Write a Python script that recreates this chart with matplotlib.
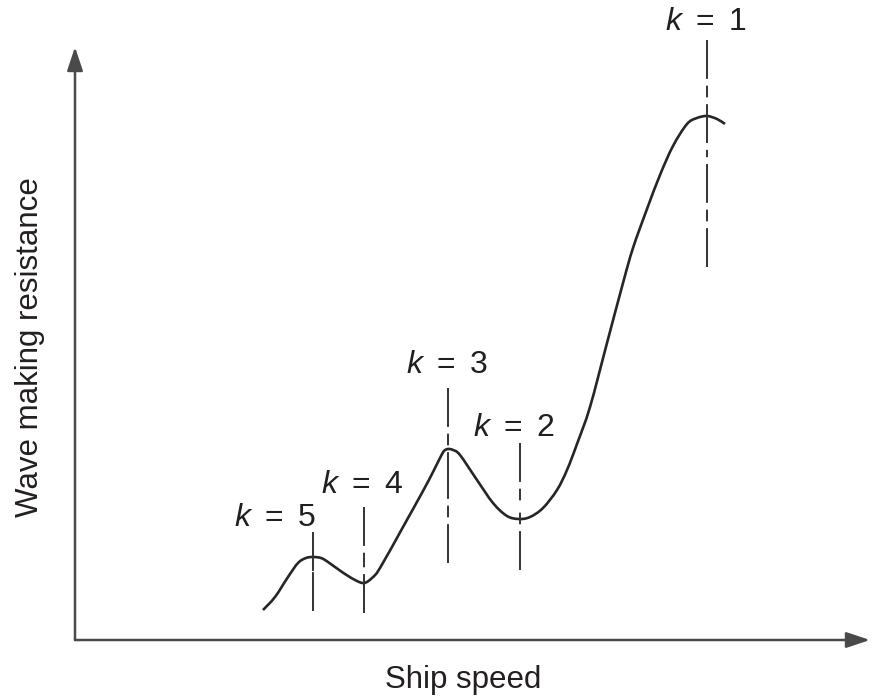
import matplotlib
matplotlib.use("Agg")
import matplotlib.pyplot as plt
from matplotlib.path import Path
from matplotlib.patches import PathPatch

plt.rcParams["font.family"] = ["Liberation Sans", "DejaVu Sans"]
plt.rcParams["mathtext.fontset"] = "custom"
plt.rcParams["mathtext.it"] = "Liberation Sans:italic"
plt.rcParams["mathtext.rm"] = "Liberation Sans"

# Wave-making resistance curve (arbitrary units)
speed = [18.8, 20.0, 21.3, 22.3, 23.1, 23.8, 24.6, 25.3, 26.7, 28.0, 28.9,
         29.7, 30.5, 32.8, 34.8, 35.8, 36.5, 36.9, 37.3, 37.8, 38.5, 40.2,
         41.8, 43.2, 44.4, 45.5, 46.8, 48.2, 49.2, 50.2, 51.5, 53.2, 54.8,
         55.8, 57.2, 58.5, 59.8, 61.2, 62.2, 63.2, 64.2, 65.0]
resistance = [3.0, 4.3, 6.3, 7.7, 8.2, 8.3, 8.2, 7.8, 6.8, 6.0, 5.7,
              6.2, 7.2, 11.3, 14.9, 16.8, 18.2, 18.9, 19.1, 19.0, 18.5, 16.0,
              13.7, 12.4, 12.1, 12.3, 13.2, 15.0, 17.0, 19.6, 23.3, 29.7, 35.7,
              39.2, 43.1, 46.5, 49.4, 51.6, 52.2, 52.4, 52.1, 51.6]

# Interference humps: k value, speed, marker extent, label position
k_values = [1, 2, 3, 4, 5]
k_speed = [63.2, 44.5, 37.3, 28.9, 23.8]
k_line_low = [37.3, 7.0, 7.7, 2.7, 2.9]
k_line_high = [60.0, 19.7, 25.2, 13.3, 10.8]
k_label_x = [63.1, 43.9, 37.2, 28.7, 20.0]
k_label_y = [61.8, 21.2, 27.5, 15.5, 12.2]

x_axis_end = 79.5
y_axis_end = 59.3


def smooth_path(xs, ys):
    """Cubic Bezier path passing through every point (Catmull-Rom tangents)."""
    pts = list(zip(xs, ys))
    verts = [pts[0]]
    codes = [Path.MOVETO]
    n = len(pts)
    for i in range(n - 1):
        p0 = pts[i - 1] if i > 0 else pts[i]
        p1 = pts[i]
        p2 = pts[i + 1]
        p3 = pts[i + 2] if i + 2 < n else pts[i + 1]
        c1 = (p1[0] + (p2[0] - p0[0]) / 6, p1[1] + (p2[1] - p0[1]) / 6)
        c2 = (p2[0] - (p3[0] - p1[0]) / 6, p2[1] - (p3[1] - p1[1]) / 6)
        verts += [c1, c2, p2]
        codes += [Path.CURVE4] * 3
    return Path(verts, codes)


fig = plt.figure(figsize=(8.77, 7.0), dpi=100)
ax = fig.add_axes([0, 0, 1, 1])
ax.set_xlim(-7.5, 80.2)
ax.set_ylim(-6.0, 64.0)
ax.axis("off")

axis_color = "#4a4a4a"
ink = "#231f20"

# Axes with arrowheads
arrow_style = "-|>,head_length=0.72,head_width=0.24"
for end in [(x_axis_end, 0), (0, y_axis_end)]:
    ax.annotate("", xy=end, xytext=(0, 0),
                arrowprops=dict(arrowstyle=arrow_style, mutation_scale=20,
                                lw=1.8, color=axis_color,
                                shrinkA=0, shrinkB=0))

# Centre lines marking each k, dashed inward from both ends so each
# end finishes on a long dash
centre_style = (0, (20, 3.5, 6, 3.5))
for xs, lo, hi in zip(k_speed, k_line_low, k_line_high):
    mid = (lo + hi) / 2
    for start in (hi, lo):
        ax.plot([xs, xs], [start, mid], color="#333333", lw=1.4,
                linestyle=centre_style, solid_capstyle="butt")

# Resistance curve
ax.add_patch(PathPatch(smooth_path(speed, resistance), fill=False,
                       edgecolor="#262626", lw=1.9, capstyle="butt",
                       joinstyle="round"))

for k, lx, ly in zip(k_values, k_label_x, k_label_y):
    ax.text(lx, ly, f"$k\\ =\\ {k}$", ha="center", va="center",
            fontsize=23, color=ink)

ax.text(38.8, -4.0, "Ship speed", ha="center", va="center",
        fontsize=22.5, color=ink)
ax.text(-4.5, 29.3, "Wave making resistance", ha="center", va="center",
        rotation=90, fontsize=22.5, color=ink)

fig.savefig("out.png", dpi=100)
